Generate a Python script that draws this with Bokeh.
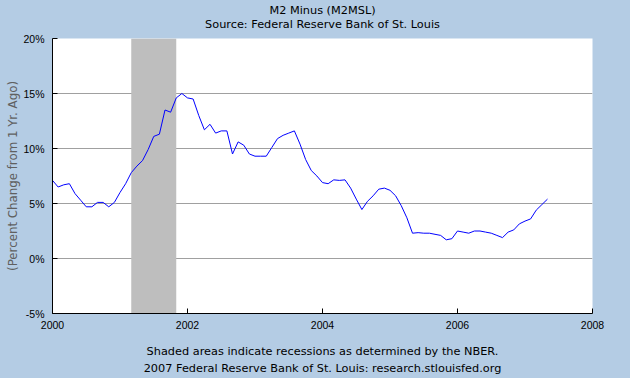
import pandas as pd
from bokeh.plotting import figure
from bokeh.models import Range1d, FixedTicker, PrintfTickFormatter, Title, GlobalInlineStyleSheet, ColumnDataSource
from bokeh.embed import file_html
from bokeh.resources import INLINE

# ---- data ----
series_start = "2000-01"
m2_minus_yoy = [7.1, 6.5, 6.7, 6.8, 5.9, 5.3, 4.7, 4.7, 5.1, 5.1, 4.7, 5.1,
                6.0, 6.8, 7.8, 8.4, 8.9, 9.9, 11.1, 11.3, 13.5, 13.3, 14.6, 15.0,
                14.6, 14.5, 13.0, 11.7, 12.2, 11.4, 11.6, 11.6, 9.5, 10.6, 10.3, 9.5,
                9.3, 9.3, 9.3, 10.1, 10.9, 11.2, 11.4, 11.6, 10.4, 9.0, 8.0, 7.5,
                6.9, 6.8, 7.15, 7.1, 7.15, 6.4, 5.4, 4.45, 5.2, 5.7, 6.3, 6.4,
                6.2, 5.7, 4.8, 3.7, 2.3, 2.35, 2.3, 2.3, 2.2, 2.1, 1.7, 1.8,
                2.5, 2.4, 2.3, 2.5, 2.5, 2.4, 2.3, 2.1, 1.9, 2.4, 2.6, 3.15,
                3.4, 3.6, 4.4, 4.9, 5.4]
recession_start = ["2001-03"]
recession_end = ["2001-11"]
x_ticks = [2000, 2002, 2004, 2006, 2008]
y_ticks = [-5, 0, 5, 10, 15, 20]
grid_ticks = [0, 5, 10, 15]
x_limits = (2000, 2008)
y_limits = (-5, 20)

title_main = "M2 Minus (M2MSL)"
title_source = "Source: Federal Reserve Bank of St. Louis"
y_label = "(Percent Change from 1 Yr. Ago)"
footer_1 = "Shaded areas indicate recessions as determined by the NBER."
footer_2 = "2007 Federal Reserve Bank of St. Louis: research.stlouisfed.org"


def decimal_year(ts):
    return ts.year + (ts.month - 1) / 12.0


dates = pd.date_range(series_start, periods=len(m2_minus_yoy), freq="MS")
xs = [decimal_year(d) for d in dates]
rec_left = [decimal_year(pd.Timestamp(s)) for s in recession_start]
rec_right = [decimal_year(pd.Timestamp(s)) for s in recession_end]

BG = "#B4CCE4"
TICK_FONT = "Liberation Sans"
TICK_FS = "10.5px"
TEXT_FONT = "DejaVu Sans"
TEXT_FS = "11.3px"

p = figure(width=630, height=378, title=None,
           x_range=Range1d(*x_limits), y_range=Range1d(*y_limits),
           output_backend="svg", toolbar_location=None,
           min_border_left=52, min_border_right=38, min_border_top=38, min_border_bottom=65,
           background_fill_color="white", border_fill_color=BG, outline_line_color=None)
p.stylesheets = [GlobalInlineStyleSheet(
    css="html, body { margin: 0; padding: 0; overflow: hidden; background-color: %s; }" % BG)]

# recession shading
rec_src = ColumnDataSource(dict(left=rec_left, right=rec_right,
                                top=[y_limits[1]] * len(rec_left), bottom=[y_limits[0]] * len(rec_left)))
p.quad(left="left", right="right", top="top", bottom="bottom", source=rec_src,
       fill_color="#BEBEBE", line_color=None)

# series
p.line(xs, m2_minus_yoy, line_color="#0000FF", line_width=1)

# grids
p.xgrid.visible = False
p.ygrid.ticker = FixedTicker(ticks=grid_ticks)
p.ygrid.grid_line_color = "#A0A0A0"
p.ygrid.grid_line_width = 1

# axes
for ax in (p.xaxis[0], p.yaxis[0]):
    ax.axis_line_color = "black"
    ax.major_tick_line_color = "black"
    ax.major_tick_in = 5
    ax.major_tick_out = 0
    ax.minor_tick_line_color = None
    ax.major_label_text_font = TICK_FONT
    ax.major_label_text_font_size = TICK_FS
    ax.major_label_text_color = "black"

p.xaxis.ticker = FixedTicker(ticks=x_ticks)
p.xaxis.formatter = PrintfTickFormatter(format="%d")
p.xaxis.major_label_standoff = 7

p.yaxis.ticker = FixedTicker(ticks=y_ticks)
p.yaxis.formatter = PrintfTickFormatter(format="%d%%")
p.yaxis.major_label_standoff = 8
p.yaxis.axis_label = y_label
p.yaxis.axis_label_text_font = TEXT_FONT
p.yaxis.axis_label_text_font_size = "11.8px"
p.yaxis.axis_label_text_font_style = "normal"
p.yaxis.axis_label_text_color = "#606060"
p.yaxis.axis_label_standoff = 0


def make_title(text, standoff, valign):
    return Title(text=text, align="center", vertical_align=valign, text_font=TEXT_FONT,
                 text_font_size=TEXT_FS, text_font_style="normal", text_color="black",
                 standoff=standoff)


# titles (nearest to the frame first)
p.add_layout(make_title(title_source, 12, "top"), "above")
p.add_layout(make_title(title_main, -11, "bottom"), "above")

p.add_layout(make_title(footer_1, 22, "bottom"), "below")
p.add_layout(make_title(footer_2, -13, "top"), "below")

open("out.html", "w").write(file_html(p, INLINE))
